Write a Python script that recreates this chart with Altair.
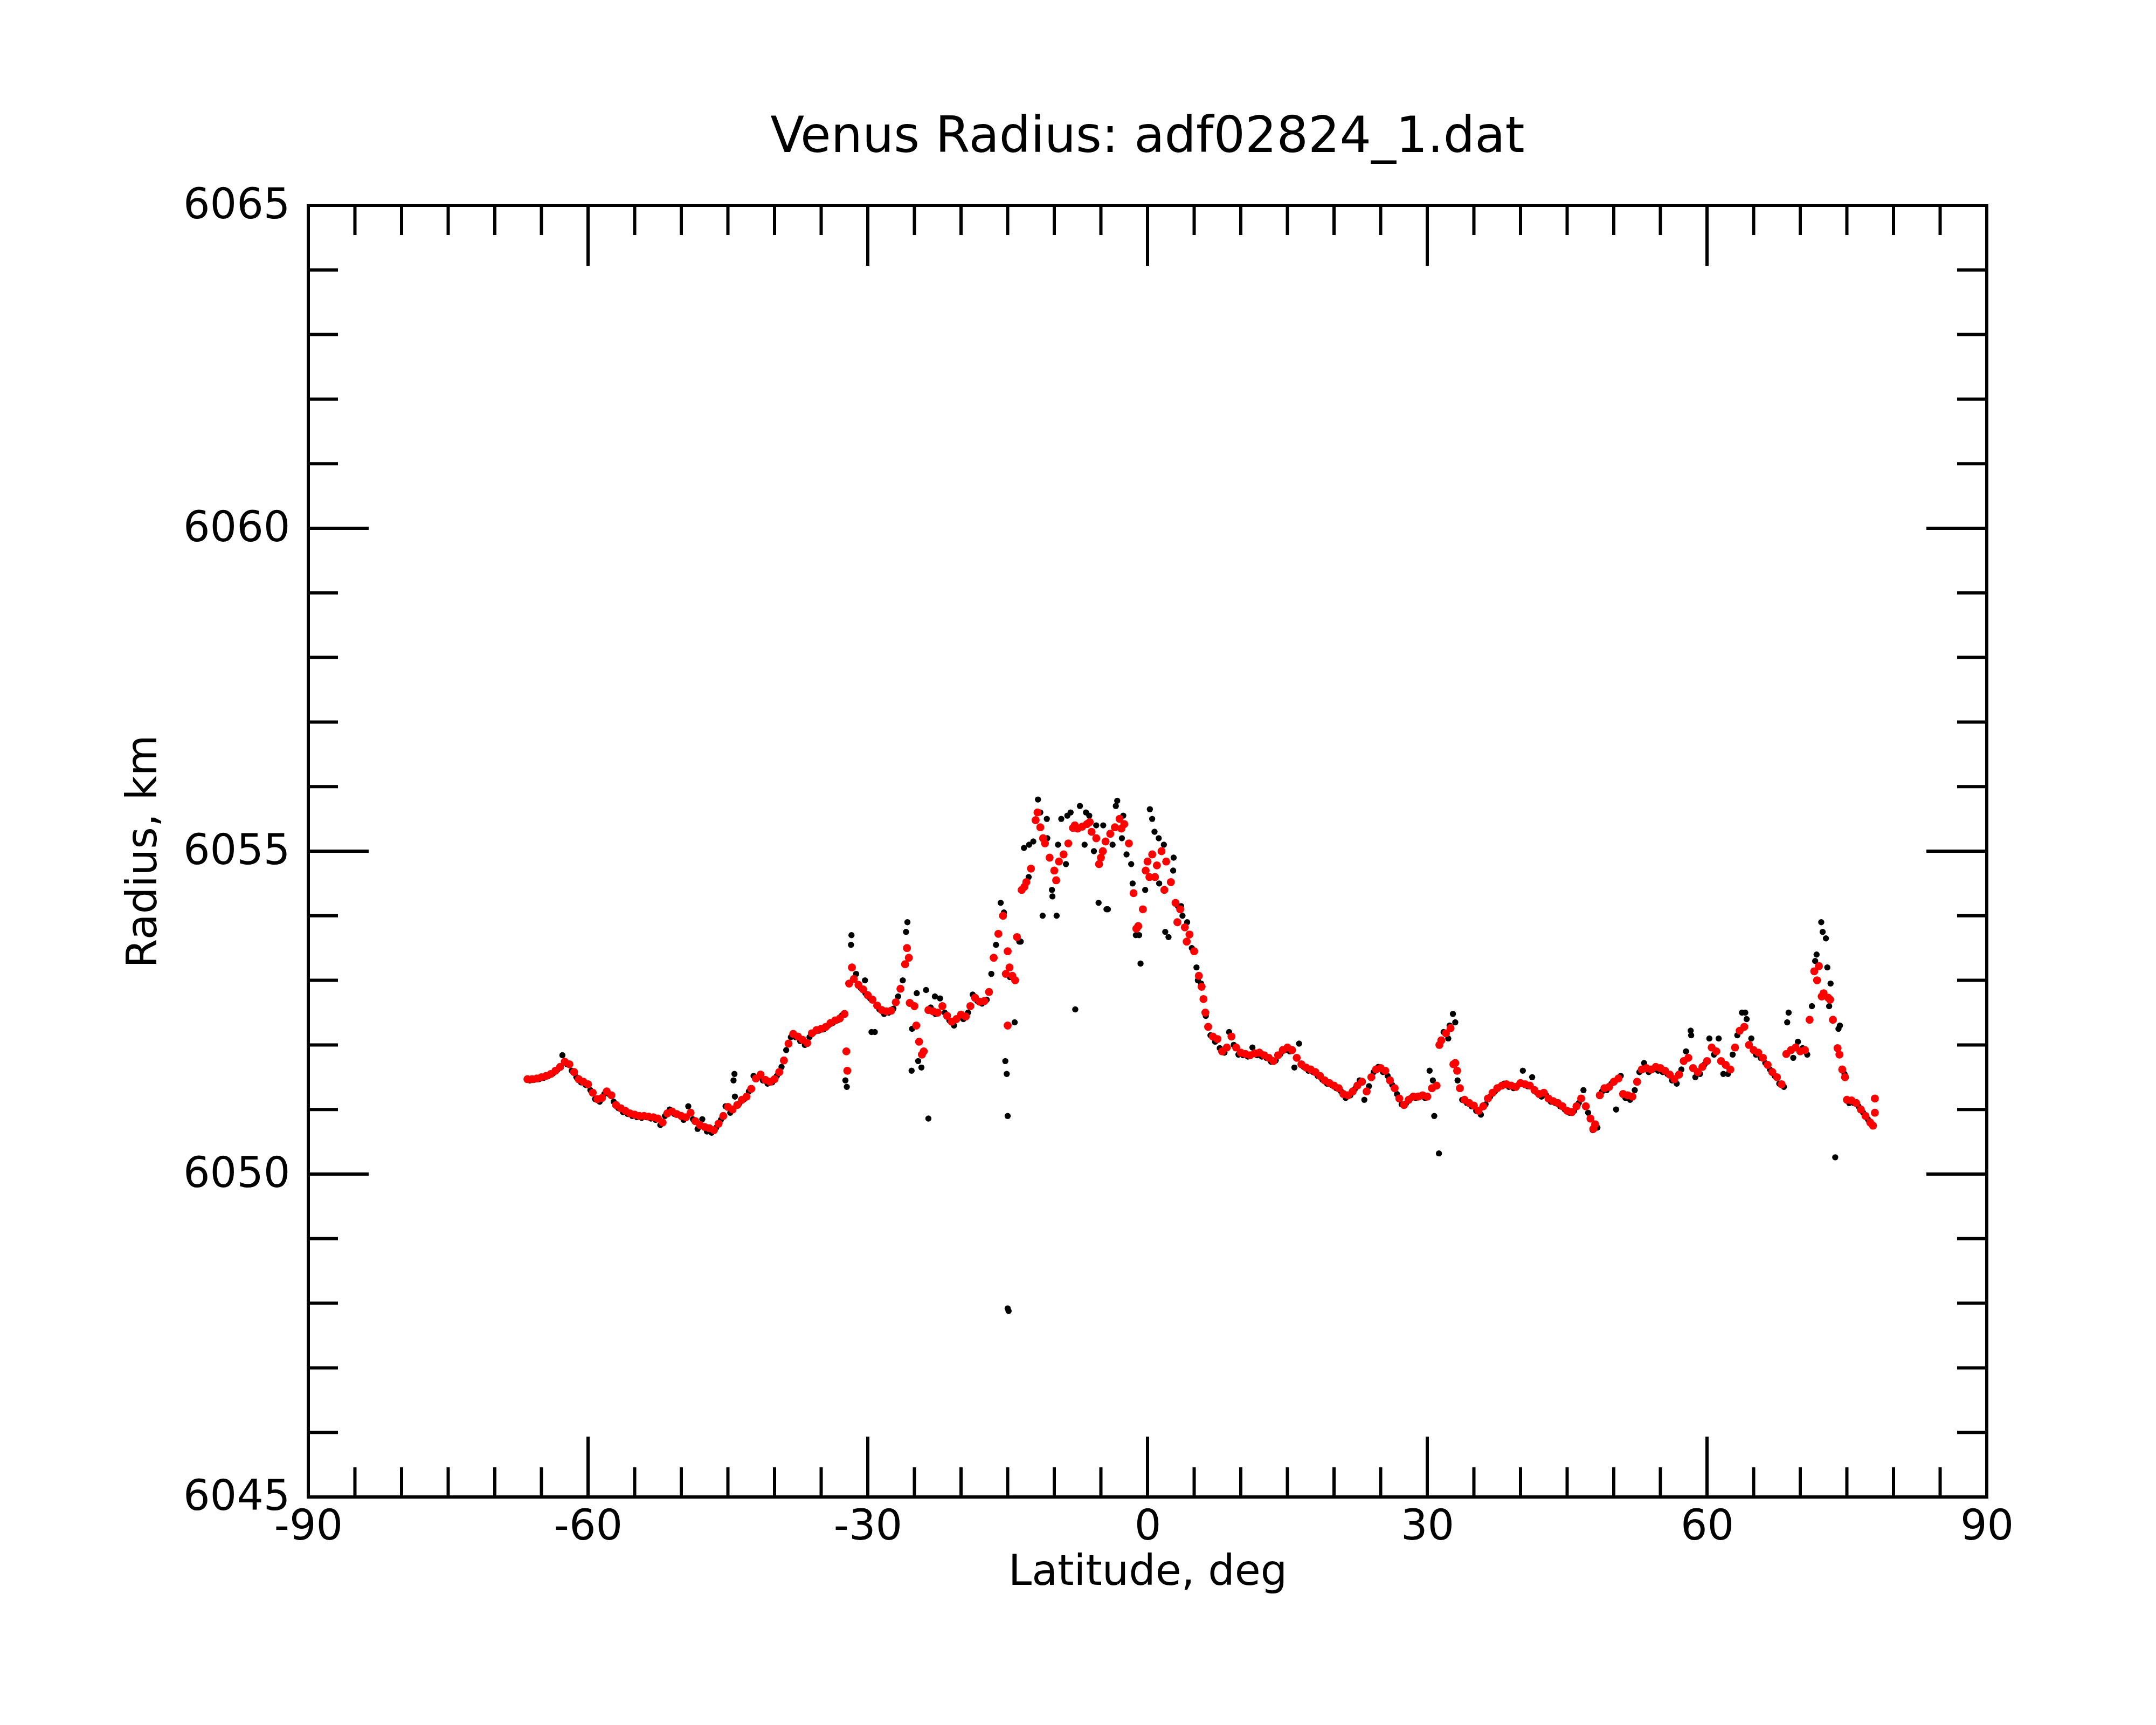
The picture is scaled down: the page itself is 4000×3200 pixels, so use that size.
import altair as alt
import pandas as pd

# ---------------- data ----------------
red_lat = [
    -66.5, -66.0, -65.5, -65.0, -64.5, -64.0, -63.5, -63.0, -62.5, -62.0, -61.5, -61.0, -60.5, -60.0,
    -59.5, -59.0, -58.5, -58.0, -57.5, -57.0, -56.5, -56.0, -55.5, -55.0, -54.5, -54.0, -53.5, -53.0,
    -52.5, -52.0, -51.5, -51.0, -50.5, -50.0, -49.5, -49.0, -48.5, -48.0, -47.5, -47.0, -46.5, -46.0,
    -45.5, -45.0, -44.5, -44.0, -43.5, -43.0, -42.5, -42.0, -41.5, -41.0, -40.5, -40.0, -39.5, -39.0,
    -38.5, -38.0, -37.5, -37.0, -36.5, -36.0, -35.5, -35.0, -34.5, -34.0, -33.5, -33.0, -32.5, -32.0,
    -31.5, -31.0, -30.5, -30.0, -29.5, -29.0, -28.5, -28.0, -27.5, -27.0, -26.5, -26.0, -25.5, -25.0,
    -24.5, -24.0, -23.5, -23.0, -22.5, -22.0, -21.5, -21.0, -20.5, -20.0, -19.5, -19.0, -18.5, -18.0,
    -17.5, -17.0, -16.5, -16.0, -15.5, -15.0, -14.5, -14.0, -13.5, -13.0, -12.5, -12.0, -11.5, -11.0,
    -10.5, -10.0, -9.5, -9.0, -8.5, -8.0, -7.5, -7.0, -6.5, -6.0, -5.5, -5.0, -4.5, -4.0,
    -3.5, -3.0, -2.5, -2.0, -1.5, -1.0, -0.5, 0.0, 0.5, 1.0, 1.5, 2.0, 2.5, 3.0,
    3.5, 4.0, 4.5, 5.0, 5.5, 6.0, 6.5, 7.0, 7.5, 8.0, 8.5, 9.0, 9.5, 10.0,
    10.5, 11.0, 11.5, 12.0, 12.5, 13.0, 13.5, 14.0, 14.5, 15.0, 15.5, 16.0, 16.5, 17.0,
    17.5, 18.0, 18.5, 19.0, 19.5, 20.0, 20.5, 21.0, 21.5, 22.0, 22.5, 23.0, 23.5, 24.0,
    24.5, 25.0, 25.5, 26.0, 26.5, 27.0, 27.5, 28.0, 28.5, 29.0, 29.5, 30.0, 30.5, 31.0,
    31.5, 32.0, 32.5, 33.0, 33.5, 34.0, 34.5, 35.0, 35.5, 36.0, 36.5, 37.0, 37.5, 38.0,
    38.5, 39.0, 39.5, 40.0, 40.5, 41.0, 41.5, 42.0, 42.5, 43.0, 43.5, 44.0, 44.5, 45.0,
    45.5, 46.0, 46.5, 47.0, 47.5, 48.0, 48.5, 49.0, 49.5, 50.0, 50.5, 51.0, 51.5, 52.0,
    52.5, 53.0, 53.5, 54.0, 54.5, 55.0, 55.5, 56.0, 56.5, 57.0, 57.5, 58.0, 58.5, 59.0,
    59.5, 60.0, 60.5, 61.0, 61.5, 62.0, 62.5, 63.0, 63.5, 64.0, 64.5, 65.0, 65.5, 66.0,
    66.5, 67.0, 67.5, 68.0, 68.5, 69.0, 69.5, 70.0, 70.5, 71.0, 71.5, 72.0, 72.5, 73.0,
    73.5, 74.0, 74.5, 75.0, 75.5, 76.0, 76.5, 77.0, 77.5, 78.0,
]
red_r = [
    6051.47, 6051.47, 6051.48, 6051.50, 6051.52, 6051.55, 6051.60, 6051.66, 6051.74, 6051.70, 6051.58, 6051.47, 6051.43, 6051.39,
    6051.26, 6051.16, 6051.18, 6051.28, 6051.22, 6051.07, 6051.02, 6050.98, 6050.94, 6050.92, 6050.90, 6050.90, 6050.89, 6050.88,
    6050.86, 6050.80, 6050.94, 6050.97, 6050.93, 6050.90, 6050.88, 6050.95, 6050.82, 6050.76, 6050.73, 6050.71, 6050.68, 6050.78,
    6050.90, 6051.04, 6051.00, 6051.07, 6051.15, 6051.20, 6051.32, 6051.48, 6051.54, 6051.46, 6051.43, 6051.47, 6051.58, 6051.76,
    6052.02, 6052.17, 6052.13, 6052.08, 6052.03, 6052.18, 6052.23, 6052.25, 6052.28, 6052.34, 6052.38, 6052.41, 6052.48, 6052.95,
    6053.02, 6052.93, 6052.86, 6052.77, 6052.70, 6052.61, 6052.54, 6052.52, 6052.53, 6052.66, 6052.87, 6053.25, 6052.65, 6052.60,
    6052.05, 6051.90, 6052.54, 6052.52, 6052.50, 6052.60, 6052.45, 6052.36, 6052.40, 6052.47, 6052.44, 6052.60, 6052.73, 6052.67,
    6052.68, 6052.82, 6053.35, 6053.72, 6054.00, 6053.45, 6053.07, 6053.67, 6054.40, 6054.52, 6054.73, 6055.48, 6055.37, 6055.12,
    6054.90, 6054.70, 6054.84, 6054.95, 6055.12, 6055.36, 6055.35, 6055.38, 6055.42, 6055.30, 6055.20, 6054.90, 6055.15, 6055.27,
    6055.37, 6055.50, 6055.42, 6055.12, 6054.35, 6053.84, 6054.10, 6054.84, 6054.95, 6054.78, 6055.00, 6054.84, 6054.52, 6054.20,
    6054.10, 6053.82, 6053.71, 6053.45, 6053.07, 6052.71, 6052.28, 6052.13, 6052.09, 6051.90, 6051.96, 6052.13, 6051.96, 6051.88,
    6051.86, 6051.84, 6051.87, 6051.88, 6051.84, 6051.80, 6051.75, 6051.84, 6051.92, 6051.96, 6051.92, 6051.80, 6051.70, 6051.65,
    6051.62, 6051.58, 6051.52, 6051.45, 6051.41, 6051.37, 6051.33, 6051.24, 6051.22, 6051.28, 6051.37, 6051.43, 6051.28, 6051.50,
    6051.62, 6051.64, 6051.60, 6051.45, 6051.33, 6051.17, 6051.07, 6051.15, 6051.20, 6051.20, 6051.22, 6051.20, 6051.33, 6051.37,
    6052.07, 6052.18, 6052.26, 6051.72, 6051.33, 6051.15, 6051.10, 6051.06, 6050.98, 6051.05, 6051.17, 6051.26, 6051.33, 6051.37,
    6051.39, 6051.37, 6051.35, 6051.41, 6051.39, 6051.37, 6051.30, 6051.24, 6051.26, 6051.17, 6051.13, 6051.10, 6051.05, 6050.98,
    6050.96, 6051.05, 6051.17, 6051.05, 6050.86, 6050.77, 6051.22, 6051.33, 6051.35, 6051.43, 6051.48, 6051.24, 6051.22, 6051.20,
    6051.43, 6051.62, 6051.64, 6051.62, 6051.66, 6051.64, 6051.60, 6051.54, 6051.47, 6051.54, 6051.75, 6051.80, 6051.64, 6051.58,
    6051.66, 6051.75, 6051.96, 6051.90, 6051.75, 6051.69, 6051.62, 6051.96, 6052.22, 6052.28, 6052.00, 6051.92, 6051.88, 6051.80,
    6051.69, 6051.58, 6051.50, 6051.39, 6051.86, 6051.92, 6051.96, 6051.90, 6051.92, 6052.39, 6053.14, 6053.22, 6052.80, 6052.73,
    6052.39, 6051.95, 6051.62, 6051.15, 6051.14, 6051.10, 6051.00, 6050.90, 6050.80, 6051.17,
]
red_extra_lat = [-32.3, -32.2, -31.7, -25.8, -25.6, -24.8, -24.2, -15.2, -15.0, -14.8, -14.2, -13.2,
                 -11.8, -11.2, -9.8, -7.8, -6.2, -5.2, -4.8, -2.8, -1.2, -0.2, 0.2, 0.8, 1.8, 3.2,
                 4.2, 5.8, 6.2, 31.3, 32.8, 33.2, 47.8, 71.8, 72.3, 73.2, 74.2, 74.8, 78.0, 77.8]
red_extra_r = [6051.90, 6051.60, 6053.20, 6053.50, 6053.35, 6052.30, 6051.85, 6053.10, 6052.30, 6053.20, 6053.00, 6054.45,
               6055.60, 6055.20, 6054.55, 6055.40, 6055.45, 6054.80, 6055.00, 6055.35, 6053.80, 6054.70, 6054.60, 6054.60, 6054.40, 6053.90,
               6053.60, 6052.90, 6052.50, 6052.00, 6051.70, 6051.60, 6050.70, 6053.00, 6052.75, 6052.70, 6051.85, 6051.50, 6050.95, 6050.75]

black_lat = [
    -66.25, -65.75, -65.25, -64.75, -64.25, -63.75, -63.25, -62.75, -62.25, -61.75, -61.25, -60.75, -60.25, -59.75,
    -59.25, -58.75, -58.25, -57.75, -57.25, -56.75, -56.25, -55.75, -55.25, -54.75, -54.25, -53.75, -53.25, -52.75,
    -52.25, -51.75, -51.25, -50.75, -50.25, -49.75, -49.25, -48.75, -48.25, -47.75, -47.25, -46.75, -46.25, -45.75,
    -45.25, -44.75, -44.25, -43.75, -43.25, -42.75, -42.25, -41.75, -41.25, -40.75, -40.25, -39.75, -39.25, -38.75,
    -38.25, -37.75, -37.25, -36.75, -36.25, -35.75, -35.25, -34.75, -34.25, -33.75, -33.25, -32.75, -32.25, -31.75,
    -31.25, -30.75, -30.25, -29.75, -29.25, -28.75, -28.25, -27.75, -27.25, -26.75, -26.25, -25.75, -25.25, -24.75,
    -24.25, -23.75, -23.25, -22.75, -22.25, -21.75, -21.25, -20.75, -20.25, -19.75, -19.25, -18.75, -18.25, -17.75,
    -17.25, -16.75, -16.25, -15.75, -15.25, -14.75, -14.25, -13.75, -13.25, -12.75, -12.25, -11.75, -11.25, -10.75,
    -10.25, -9.75, -9.25, -8.75, -8.25, -7.75, -7.25, -6.75, -6.25, -5.75, -5.25, -4.75, -4.25, -3.75,
    -3.25, -2.75, -2.25, -1.75, -1.25, -0.75, -0.25, 0.25, 0.75, 1.25, 1.75, 2.25, 2.75, 3.25,
    3.75, 4.25, 4.75, 5.25, 5.75, 6.25, 6.75, 7.25, 7.75, 8.25, 8.75, 9.25, 9.75, 10.25,
    10.75, 11.25, 11.75, 12.25, 12.75, 13.25, 13.75, 14.25, 14.75, 15.25, 15.75, 16.25, 16.75, 17.25,
    17.75, 18.25, 18.75, 19.25, 19.75, 20.25, 20.75, 21.25, 21.75, 22.25, 22.75, 23.25, 23.75, 24.25,
    24.75, 25.25, 25.75, 26.25, 26.75, 27.25, 27.75, 28.25, 28.75, 29.25, 29.75, 30.25, 30.75, 31.25,
    31.75, 32.25, 32.75, 33.25, 33.75, 34.25, 34.75, 35.25, 35.75, 36.25, 36.75, 37.25, 37.75, 38.25,
    38.75, 39.25, 39.75, 40.25, 40.75, 41.25, 41.75, 42.25, 42.75, 43.25, 43.75, 44.25, 44.75, 45.25,
    45.75, 46.25, 46.75, 47.25, 47.75, 48.25, 48.75, 49.25, 49.75, 50.25, 50.75, 51.25, 51.75, 52.25,
    52.75, 53.25, 53.75, 54.25, 54.75, 55.25, 55.75, 56.25, 56.75, 57.25, 57.75, 58.25, 58.75, 59.25,
    59.75, 60.25, 60.75, 61.25, 61.75, 62.25, 62.75, 63.25, 63.75, 64.25, 64.75, 65.25, 65.75, 66.25,
    66.75, 67.25, 67.75, 68.25, 68.75, 69.25, 69.75, 70.25, 70.75, 71.25, 71.75, 72.25, 72.75, 73.25,
    73.75, 74.25, 74.75, 75.25, 75.75, 76.25, 76.75, 77.25, 77.75,
]
black_r = [
    6051.45, 6051.46, 6051.47, 6051.49, 6051.52, 6051.56, 6051.62, 6051.84, 6051.70, 6051.60, 6051.50, 6051.42, 6051.38, 6051.30,
    6051.16, 6051.12, 6051.24, 6051.24, 6051.12, 6051.02, 6050.96, 6050.93, 6050.90, 6050.88, 6050.87, 6050.88, 6050.86, 6050.84,
    6050.76, 6050.90, 6051.00, 6050.93, 6050.92, 6050.84, 6051.05, 6050.85, 6050.70, 6050.85, 6050.66, 6050.64, 6050.72, 6050.84,
    6051.05, 6050.95, 6051.20, 6051.10, 6051.16, 6051.28, 6051.52, 6051.50, 6051.45, 6051.40, 6051.42, 6051.52, 6051.66, 6051.92,
    6052.12, 6052.12, 6052.06, 6052.00, 6052.12, 6052.20, 6052.22, 6052.24, 6052.30, 6052.34, 6052.38, 6052.46, 6051.35, 6053.70,
    6053.10, 6052.88, 6052.80, 6052.72, 6052.20, 6052.55, 6052.48, 6052.50, 6052.56, 6052.75, 6053.00, 6053.90, 6052.25, 6052.80,
    6051.65, 6052.85, 6052.58, 6052.48, 6052.72, 6052.50, 6052.38, 6052.30, 6052.42, 6052.40, 6052.50, 6052.78, 6052.68, 6052.64,
    6052.70, 6053.10, 6053.55, 6054.20, 6051.75, 6053.05, 6052.35, 6053.60, 6055.05, 6054.60, 6055.15, 6055.80, 6054.00, 6055.20,
    6054.40, 6054.00, 6055.50, 6054.80, 6055.60, 6052.55, 6055.70, 6055.10, 6055.55, 6055.00, 6054.20, 6055.40, 6054.10, 6055.10,
    6055.78, 6055.20, 6054.95, 6054.80, 6053.70, 6053.26, 6054.40, 6055.65, 6055.30, 6054.50, 6055.10, 6053.67, 6054.70, 6054.15,
    6054.00, 6053.90, 6053.50, 6053.20, 6052.95, 6052.45, 6052.15, 6052.05, 6051.95, 6051.88, 6052.20, 6052.00, 6051.85, 6051.84,
    6051.82, 6051.96, 6051.84, 6051.82, 6051.80, 6051.74, 6051.76, 6051.86, 6051.92, 6051.90, 6051.65, 6052.02, 6051.66, 6051.60,
    6051.58, 6051.52, 6051.46, 6051.40, 6051.38, 6051.33, 6051.28, 6051.18, 6051.22, 6051.32, 6051.45, 6051.15, 6051.36, 6051.58,
    6051.66, 6051.58, 6051.52, 6051.38, 6051.24, 6051.08, 6051.10, 6051.18, 6051.18, 6051.20, 6051.18, 6051.60, 6050.90, 6050.32,
    6052.20, 6052.10, 6052.48, 6051.45, 6051.15, 6051.10, 6051.05, 6050.98, 6050.92, 6051.08, 6051.20, 6051.28, 6051.35, 6051.40,
    6051.35, 6051.33, 6051.38, 6051.60, 6051.36, 6051.50, 6051.26, 6051.20, 6051.22, 6051.12, 6051.10, 6051.05, 6051.00, 6050.95,
    6050.98, 6051.10, 6051.30, 6050.95, 6050.68, 6050.72, 6051.28, 6051.30, 6051.40, 6051.00, 6051.52, 6051.18, 6051.15, 6051.30,
    6051.58, 6051.72, 6051.58, 6051.62, 6051.60, 6051.58, 6051.55, 6051.45, 6051.40, 6051.62, 6051.90, 6052.22, 6051.50, 6051.55,
    6051.70, 6052.10, 6051.85, 6052.10, 6051.55, 6051.55, 6051.85, 6052.15, 6052.50, 6052.40, 6052.10, 6051.85, 6051.80, 6051.72,
    6051.62, 6051.52, 6051.40, 6051.35, 6052.50, 6051.80, 6052.05, 6051.95, 6051.85, 6052.60, 6053.40, 6053.90, 6053.65, 6052.95,
    6050.26, 6052.30, 6051.55, 6051.10, 6051.10, 6051.05, 6050.95, 6050.85, 6050.75,
]
black_extra_lat = [-44.4, -44.3, -32.4, -31.8, -30.3, -29.6, -25.9, -25.3, -24.6, -23.5, -22.8, -15.4, -15.1,
                   -15.0, -15.0, -14.9, -13.6, -12.7, -11.5, -10.8, -10.2, -9.6, -8.6, -6.6, -5.5, -4.4, -3.4,
                   -2.6, -1.6, -0.9, 0.5, 1.2, 1.9, 2.8, 3.6, 5.4, 30.6, 32.4, 33.0, 58.3, 64.1, 68.6,
                   71.6, 72.4, 72.9, 73.1, 74.1]
black_extra_r = [6051.45, 6051.55, 6051.45, 6053.55, 6053.00, 6052.20, 6053.75, 6051.60, 6051.75, 6050.86, 6052.75, 6054.05, 6051.55,
                 6050.90, 6047.92, 6047.88, 6053.60, 6055.10, 6055.60, 6055.50, 6054.30, 6055.10, 6055.55, 6055.60, 6055.40, 6054.10, 6055.70,
                 6055.55, 6054.50, 6053.70, 6055.50, 6055.20, 6053.75, 6054.90, 6054.15, 6053.00, 6051.45, 6052.30, 6052.35, 6052.15, 6052.50, 6052.35,
                 6053.30, 6053.75, 6053.20, 6052.60, 6052.25]

x_major = [-90, -60, -30, 0, 30, 60, 90]
x_minor = [-85, -80, -75, -70, -65, -55, -50, -45, -40, -35, -25, -20, -15, -10, -5,
           5, 10, 15, 20, 25, 35, 40, 45, 50, 55, 65, 70, 75, 80, 85]
y_major = [6045, 6050, 6055, 6060, 6065]
y_minor = [6046, 6047, 6048, 6049, 6051, 6052, 6053, 6054, 6056, 6057, 6058, 6059,
           6061, 6062, 6063, 6064]

# ---------------- chart ----------------
W, H = 3114, 2396
FONT = "DejaVu Sans"
MAJ, MIN = 112, 55
TW = 6

red_df = pd.DataFrame({"lat": red_lat + red_extra_lat, "r": red_r + red_extra_r})
black_df = pd.DataFrame({"lat": black_lat + black_extra_lat, "r": black_r + black_extra_r})

xscale = alt.Scale(domain=[-90, 90], nice=False, zero=False)
yscale = alt.Scale(domain=[6045, 6065], nice=False, zero=False)

xaxis = alt.Axis(values=x_major, title="Latitude, deg", ticks=False, domain=False, grid=False,
                 labelFont=FONT, labelFontSize=78, labelColor="black", labelPadding=16,
                 labelFlush=False, labelOverlap=False, labelLimit=0,
                 labelExpr="datum.value + ''",
                 titleFont=FONT, titleFontSize=78, titleFontWeight="normal", titleColor="black",
                 titleBaseline="alphabetic", titleY=162)
yaxis = alt.Axis(values=y_major, title="Radius, km", ticks=False, domain=False, grid=False,
                 labelFont=FONT, labelFontSize=78, labelColor="black", labelPadding=34,
                 labelFlush=False, labelOverlap=False, labelLimit=0,
                 labelExpr="datum.value + ''",
                 titleFont=FONT, titleFontSize=78, titleFontWeight="normal", titleColor="black",
                 titleBaseline="alphabetic", titleX=-283, titleY=H / 2, titleAngle=-90)

black_pts = alt.Chart(black_df).mark_circle(color="black", size=130, opacity=1).encode(
    x=alt.X("lat:Q", scale=xscale, axis=xaxis),
    y=alt.Y("r:Q", scale=yscale, axis=yaxis),
)
red_pts = alt.Chart(red_df).mark_circle(color="#ff0000", size=220, opacity=1).encode(
    x=alt.X("lat:Q", scale=xscale),
    y=alt.Y("r:Q", scale=yscale),
)

xmaj_df = pd.DataFrame({"t": x_major})
xmin_df = pd.DataFrame({"t": x_minor})
ymaj_df = pd.DataFrame({"t": y_major})
ymin_df = pd.DataFrame({"t": y_minor})


def xticks(df, length):
    bottom = alt.Chart(df).mark_rule(color="black", strokeWidth=TW).encode(
        x=alt.X("t:Q", scale=xscale), y=alt.value(H), y2=alt.value(H - length))
    top = alt.Chart(df).mark_rule(color="black", strokeWidth=TW).encode(
        x=alt.X("t:Q", scale=xscale), y=alt.value(0), y2=alt.value(length))
    return [bottom, top]


def yticks(df, length):
    left = alt.Chart(df).mark_rule(color="black", strokeWidth=TW).encode(
        y=alt.Y("t:Q", scale=yscale), x=alt.value(0), x2=alt.value(length))
    right = alt.Chart(df).mark_rule(color="black", strokeWidth=TW).encode(
        y=alt.Y("t:Q", scale=yscale), x=alt.value(W), x2=alt.value(W - length))
    return [left, right]


layers = [black_pts, red_pts] + xticks(xmaj_df, MAJ) + xticks(xmin_df, MIN) + \
    yticks(ymaj_df, MAJ) + yticks(ymin_df, MIN)

chart = alt.layer(*layers).properties(
    width=W, height=H,
    title=alt.Title("Venus Radius: adf02824_1.dat", font=FONT, fontSize=92, fontWeight="normal",
                    color="black", anchor="middle", baseline="alphabetic", offset=-32),
    padding={"left": 219, "top": 200, "right": 60, "bottom": 150},
    background="white",
).configure_view(stroke="black", strokeWidth=TW)

chart.save("out.html", embed_options={"renderer": "svg", "actions": False})
